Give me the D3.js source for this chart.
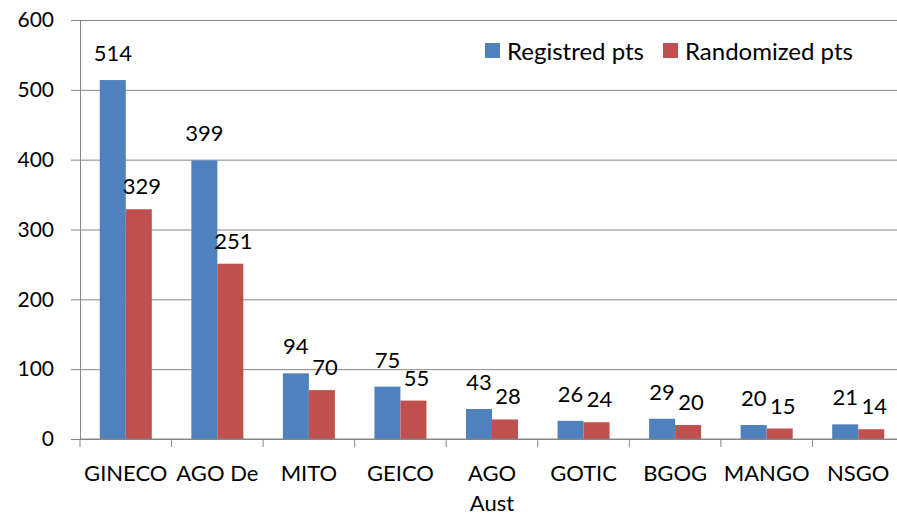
<!DOCTYPE html>
<html>
<head>
<meta charset="utf-8">
<script src="https://cdn.jsdelivr.net/npm/d3@7"></script>
<style>
  body { margin: 0; background: #fff; }
  svg text { font-family: Lato, "Open Sans", sans-serif; fill: #000; }
</style>
</head>
<body>
<div id="chart"></div>
<script>
// Groupes et effectifs
const groups = ['GINECO', 'AGO De', 'MITO', 'GEICO', 'AGO Aust', 'GOTIC', 'BGOG', 'MANGO', 'NSGO'];
const registred = [514, 399, 94, 75, 43, 26, 29, 20, 21];
const randomized = [329, 251, 70, 55, 28, 24, 20, 15, 14];
const seriesNames = ['Registred pts', 'Randomized pts'];
const yTicks = [0, 100, 200, 300, 400, 500, 600];

const colors = ['#4F81BD', '#C0504D'];
const grid = '#868686';

const W = 897, H = 516;
const margin = { top: 20, right: -7, bottom: 77, left: 80 };
const width = W - margin.left - margin.right;
const height = H - margin.top - margin.bottom;

const svg = d3.select('#chart')
    .append('svg')
    .attr('width', W)
    .attr('height', H)
    .append('g')
    .attr('transform', `translate(${margin.left},${margin.top})`);

const x = d3.scaleBand()
    .domain(groups)
    .range([0, width]);

const x1 = d3.scaleBand()
    .domain(seriesNames)
    .range([0, x.bandwidth()])
    .paddingInner(0)
    .paddingOuter(0.76);

const y = d3.scaleLinear()
    .domain([0, 600])
    .range([height, 0]);

// Grille horizontale
svg.append('g')
    .call(d3.axisLeft(y).tickValues(yTicks).tickSize(-width).tickFormat(''))
    .call(g => g.select('.domain').remove())
    .selectAll('line')
    .attr('stroke', grid);

// Eje Y
svg.append('g')
    .call(d3.axisLeft(y).tickValues(yTicks).tickSize(9).tickPadding(17))
    .call(g => g.select('.domain').attr('stroke', grid))
    .call(g => g.selectAll('line').attr('stroke', grid))
    .selectAll('text')
    .attr('font-size', '21px');

// Barras
const data = groups.map((g, i) => ({ group: g, values: [registred[i], randomized[i]] }));

const gGroup = svg.selectAll('.grp')
    .data(data)
    .join('g')
    .attr('class', 'grp')
    .attr('transform', d => `translate(${x(d.group)},0)`);

gGroup.selectAll('rect')
    .data(d => d.values.map((v, k) => ({ key: seriesNames[k], v, k })))
    .join('rect')
    .attr('x', d => x1(d.key))
    .attr('y', d => y(d.v))
    .attr('width', x1.bandwidth())
    .attr('height', d => height - y(d.v))
    .attr('fill', d => colors[d.k]);

// Étiquettes : celles de la 2e série un peu décalées à droite, comme dans Excel
gGroup.selectAll('.value-label')
    .data(d => d.values.map((v, k) => ({ key: seriesNames[k], v, k })))
    .join('text')
    .attr('class', 'value-label')
    .attr('x', d => x1(d.key) + x1.bandwidth() / 2 + (d.k ? 3 : 0))
    .attr('y', d => y(d.v) - (d.k ? 15 : 19))
    .attr('text-anchor', 'middle')
    .attr('font-size', '22px')
    .text(d => d.v);

// Eje X
const xAxis = svg.append('g')
    .attr('transform', `translate(0,${height})`);

xAxis.append('line')
    .attr('x1', 0).attr('x2', width)
    .attr('stroke', grid);

xAxis.selectAll('.tick-mark')
    .data(d3.range(groups.length + 1))
    .join('line')
    .attr('x1', i => i * x.step()).attr('x2', i => i * x.step())
    .attr('y1', 0).attr('y2', 8)
    .attr('stroke', grid);

xAxis.selectAll('.cat')
    .data(groups)
    .join('text')
    .attr('class', 'cat')
    .attr('text-anchor', 'middle')
    .attr('font-size', '22px')
    .attr('transform', d => `translate(${x(d) + x.bandwidth() / 2},42)`)
    .each(function(d) {
        const words = d === 'AGO Aust' ? ['AGO', 'Aust'] : [d];
        d3.select(this).selectAll('tspan')
            .data(words)
            .join('tspan')
            .attr('x', 0)
            .attr('dy', (w, i) => i === 0 ? 0 : 30)
            .text(w => w);
    });

// Leyenda
const legend = svg.append('g')
    .attr('transform', 'translate(405,23)');

const items = [{ name: seriesNames[0], x: 0 }, { name: seriesNames[1], x: 178 }];
items.forEach((it, i) => {
    legend.append('rect')
        .attr('x', it.x).attr('y', 0)
        .attr('width', 15).attr('height', 15)
        .attr('fill', colors[i]);
    legend.append('text')
        .attr('x', it.x + 22).attr('y', 17)
        .attr('font-size', '24px')
        .text(it.name);
});
</script>
</body>
</html>
